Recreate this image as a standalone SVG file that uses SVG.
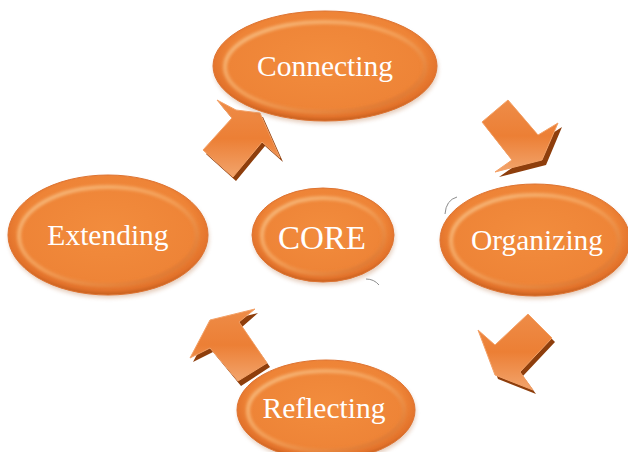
<svg xmlns="http://www.w3.org/2000/svg" width="628" height="452" viewBox="0 0 628 452">
  <defs>
    <radialGradient id="body" cx="50%" cy="45%" r="55%">
      <stop offset="0" stop-color="#F28C3D"/>
      <stop offset="0.8" stop-color="#EE8437"/>
      <stop offset="0.93" stop-color="#E2722B"/>
      <stop offset="1" stop-color="#C65F1D"/>
    </radialGradient>
    <linearGradient id="bevel" x1="0" y1="0" x2="1" y2="1">
      <stop offset="0" stop-color="#FAD09A"/>
      <stop offset="0.5" stop-color="#F6A862"/>
      <stop offset="1" stop-color="#D36A25"/>
    </linearGradient>
    <linearGradient id="arrowFill" x1="0" y1="0" x2="0" y2="1">
      <stop offset="0" stop-color="#EE8C48"/>
      <stop offset="0.5" stop-color="#EC7F35"/>
      <stop offset="1" stop-color="#F2A46C"/>
    </linearGradient>
    <filter id="soft" x="-10%" y="-10%" width="120%" height="120%">
      <feGaussianBlur stdDeviation="1.6"/>
    </filter>
    <filter id="drop" x="-10%" y="-10%" width="120%" height="130%">
      <feGaussianBlur stdDeviation="2"/>
    </filter>
  </defs>
  <style>
    .shadow { fill: #B5703F; opacity: 0.35; filter: url(#drop); }
    .body { fill: url(#body); stroke: #DE7432; stroke-width: 1; }
    .bevel { fill: none; stroke: url(#bevel); stroke-width: 4; opacity: 0.75; filter: url(#soft); }
    .label { font-family: "Liberation Serif", "DejaVu Serif", serif; fill: #FFFFFF; text-anchor: middle; font-size: 29.5px; }
    .arrow { fill: url(#arrowFill); stroke: #F3A167; stroke-width: 1; stroke-linejoin: miter; }
    .arrowSide { fill: #8E3E0C; }
    .wisp { fill: none; stroke: #8C8C8C; stroke-width: 1; }
  </style>
  <rect width="628" height="452" fill="#FFFFFF"/>

  <g id="connectors">
    <g id="arrow-extending-connecting">
      <polygon class="arrowSide" points="220,104 239,114 263,117 283,162 265,146 236,181 206,154 235,122"/>
      <polygon class="arrow" points="217,100 236,110 260,113 280,158 262,142 233,177 203,150 232,118"/>
    </g>
    <g id="arrow-connecting-organizing">
      <polygon class="arrowSide" points="486,127 512,105 542,140 562,127 546,165 499,177 516,165"/>
      <polygon class="arrow" points="482,122 508,100 538,135 558,123 542,160 495,172 512,160"/>
    </g>
    <g id="arrow-organizing-reflecting">
      <polygon class="arrowSide" points="481,334 498,349 531,318 555,342 523,376 536,394 498,379"/>
      <polygon class="arrow" points="478,330 495,345 528,314 552,338 520,372 533,390 495,375"/>
    </g>
    <g id="arrow-reflecting-extending">
      <polygon class="arrowSide" points="213,324 258,313 242,327 270,367 241,386 213,352 193,362"/>
      <polygon class="arrow" points="210,320 255,309 239,322 267,363 238,381 210,348 190,358"/>
    </g>
  </g>

  <g id="node-connecting">
    <ellipse class="shadow" cx="326" cy="69" rx="112" ry="55"/>
    <ellipse class="body" cx="325" cy="66" rx="112" ry="55"/>
    <ellipse class="bevel" cx="325" cy="67" rx="100" ry="45"/>
    <text class="label" x="325" y="76">Connecting</text>
  </g>

  <g id="node-extending">
    <ellipse class="shadow" cx="109" cy="238" rx="100" ry="60"/>
    <ellipse class="body" cx="108" cy="235" rx="100" ry="60"/>
    <ellipse class="bevel" cx="108" cy="236" rx="89" ry="49"/>
    <text class="label" x="108" y="245">Extending</text>
  </g>

  <g id="node-core">
    <ellipse class="shadow" cx="324" cy="238" rx="71" ry="47"/>
    <ellipse class="body" cx="323" cy="235" rx="71" ry="47"/>
    <ellipse class="bevel" cx="323" cy="236" rx="61" ry="38"/>
    <text class="label" x="322" y="249" style="font-size:33px">CORE</text>
    <path class="wisp" d="M366,279 Q374,279 379,285"/>
  </g>

  <g id="node-organizing">
    <ellipse class="shadow" cx="536" cy="243" rx="95" ry="56"/>
    <ellipse class="body" cx="535" cy="240" rx="95" ry="56"/>
    <ellipse class="bevel" cx="535" cy="241" rx="84" ry="46"/>
    <text class="label" x="537" y="250">Organizing</text>
    <path class="wisp" d="M445,214 Q446,200 457,197"/>
  </g>

  <g id="node-reflecting">
    <ellipse class="shadow" cx="327" cy="413" rx="89" ry="50"/>
    <ellipse class="body" cx="326" cy="410" rx="89" ry="50"/>
    <ellipse class="bevel" cx="326" cy="411" rx="78" ry="40"/>
    <text class="label" x="324" y="418">Reflecting</text>
  </g>
</svg>
